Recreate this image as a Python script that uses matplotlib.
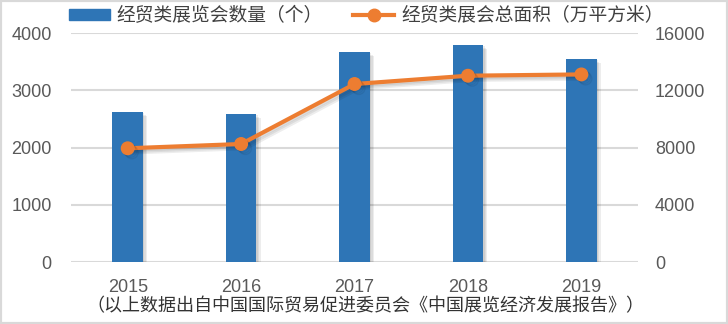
import matplotlib.pyplot as plt
import matplotlib.patheffects as pe
from matplotlib.lines import Line2D
from matplotlib.patches import Patch, Rectangle
import numpy as np

plt.rcParams['font.family'] = ['Noto Sans CJK SC', 'DejaVu Sans']

years = ["2015", "2016", "2017", "2018", "2019"]
exhibitions = [2620, 2585, 3668, 3790, 3546]      # 经贸类展览会数量（个）
area = [7950, 8250, 12440, 13020, 13110]          # 经贸类展会总面积（万平方米）

blue = "#2e75b6"
orange = "#ed7d31"
grid_c = "#d9d9d9"
text_c = "#595959"

fig = plt.figure(figsize=(7.28, 3.24), dpi=100)
ax = fig.add_axes([0.0975, 0.191, 0.779, 0.707])
ax2 = ax.twinx()

x = np.arange(len(years))
# soft drop shadow, a few offset layers
bar_fx = [pe.SimplePatchShadow(offset=(d, -d), shadow_rgbFace="#000000", alpha=0.07)
          for d in (1, 2, 3)] + [pe.Normal()]
bars = ax.bar(x, exhibitions, width=0.27, color=blue, zorder=3)
for b in bars:
    b.set_path_effects(bar_fx)

line_fx = [pe.SimpleLineShadow(offset=(d, -d), shadow_color="#000000", alpha=0.07)
           for d in (1, 2, 3)] + [pe.Normal()]
ax2.plot(x, area, color=orange, lw=3, marker="o", ms=9, zorder=4, path_effects=line_fx)

ax.set_xlim(-0.5, len(years) - 0.5)
ax.set_ylim(0, 4000)
ax.set_yticks(np.arange(0, 4001, 1000))
ax2.set_ylim(0, 16000)
ax2.set_yticks(np.arange(0, 16001, 4000))
ax.yaxis.grid(True, color=grid_c, lw=1.5, zorder=0)
ax.set_axisbelow(True)
ax.set_zorder(ax2.get_zorder() - 1)
ax.patch.set_visible(False)
ax2.patch.set_visible(False)

for a in (ax, ax2):
    for s in a.spines.values():
        s.set_visible(False)
    a.tick_params(length=0, labelsize=13, labelcolor=text_c)
    for lbl in a.get_yticklabels() + a.get_xticklabels():
        lbl.set_fontfamily(['Liberation Sans', 'DejaVu Sans'])
ax.set_xticks(x)
ax.set_xticklabels(years)
ax.tick_params(axis='x', pad=12)
ax.tick_params(axis='y', pad=14)
ax2.tick_params(axis='y', pad=12)

handles = [Patch(color=blue),
           Line2D([], [], color=orange, lw=3, marker="o", ms=9)]
labels = ["经贸类展览会数量（个）", "经贸类展会总面积（万平方米）"]
fig.legend(handles, labels, loc="center", bbox_to_anchor=(0.503, 0.952), ncol=2,
           frameon=False, fontsize=13.5, labelcolor="#404040", handlelength=2.2,
           handleheight=0.55, columnspacing=1.6, handletextpad=0.37)

fig.text(0.502, 0.055, "（以上数据出自中国国际贸易促进委员会《中国展览经济发展报告》）",
         ha="center", va="center", fontsize=13, color="#333333")

fig.patches.append(Rectangle((0, 0), 1, 1, transform=fig.transFigure, fill=False,
                             edgecolor=grid_c, lw=3))

fig.savefig("out.png", dpi=100)
